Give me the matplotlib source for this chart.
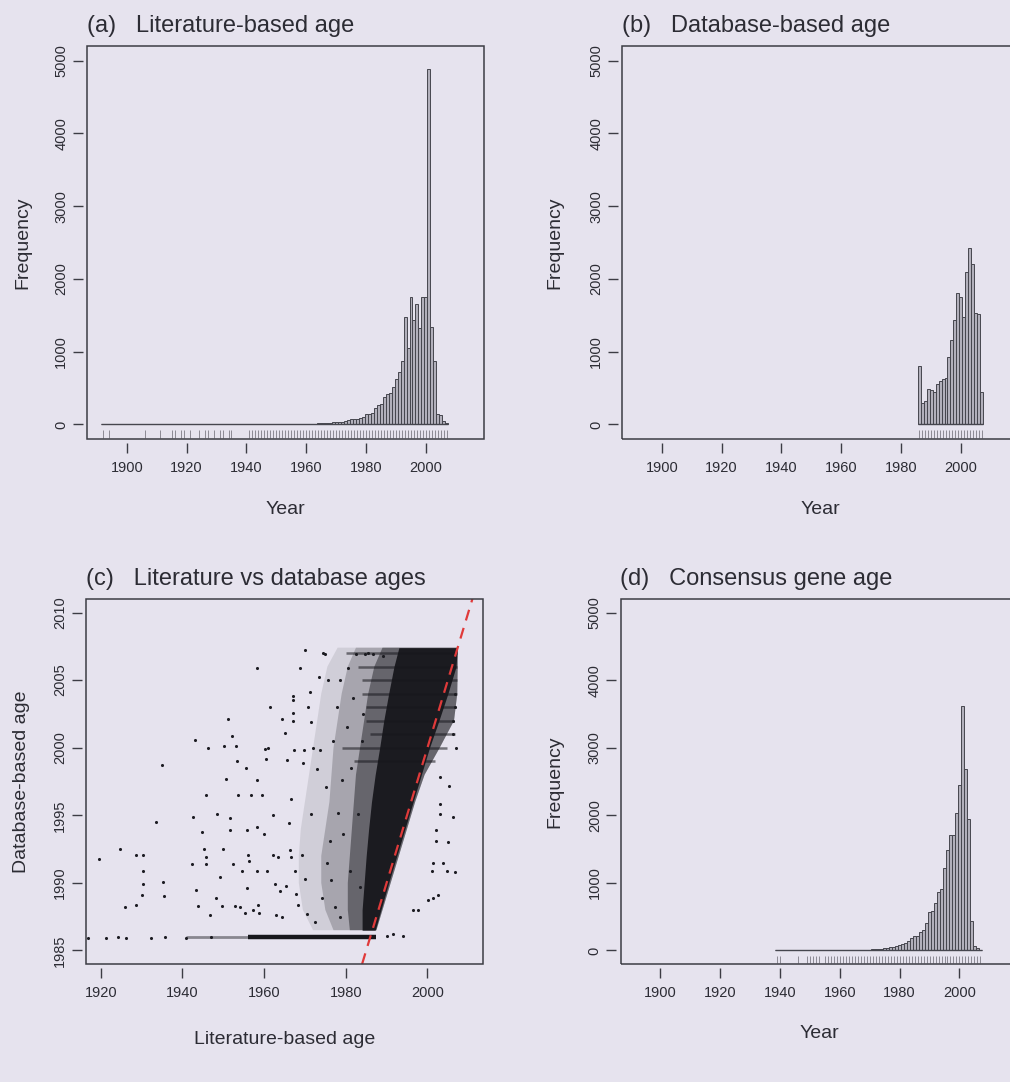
import numpy as np
import matplotlib
matplotlib.use("Agg")
import matplotlib.pyplot as plt
from matplotlib.patches import Rectangle

plt.rcParams['font.family'] = ['Liberation Sans', 'DejaVu Sans']

# ---------------- data ----------------
# (a) literature-based age histogram (counts per year)
lit_early_years = [1892, 1894, 1906, 1911, 1915, 1916, 1918, 1919, 1921, 1924,
                   1926, 1927, 1929, 1931, 1932, 1934, 1935]
lit_years_main = list(range(1941, 2008))
lit_counts_main = [2, 1, 2, 2, 3, 2, 3, 3, 4, 4,
                   4, 5, 5, 5, 6, 6, 7, 7, 8, 9,
                   10, 11, 12, 14, 16, 18, 22, 25, 28, 32,
                   36, 40, 48, 60, 72, 70, 78, 90, 100, 140,
                   150, 160, 220, 265, 280, 380, 420, 430, 520, 620,
                   720, 870, 1480, 1050, 1750, 1440, 1650, 1330, 1750, 1750,
                   4880, 1340, 870, 140, 130, 50, 20]

# (b) database-based age histogram
db_years = list(range(1986, 2008))
db_counts = [800, 300, 320, 490, 480, 440, 560, 600, 630, 640,
             920, 1160, 1440, 1810, 1750, 1470, 2090, 2420, 2200, 1530,
             1520, 450]

# (d) consensus gene age histogram
cons_early_years = [1939, 1940, 1946, 1949, 1950, 1951, 1952, 1953]
cons_early_counts = [2, 2, 1, 1, 1, 1, 1, 1]
cons_years_main = list(range(1955, 2008))
cons_counts_main = [2, 2, 3, 3, 3, 4, 4, 5, 5, 6,
                    6, 7, 8, 9, 10, 12, 15, 18, 22, 26,
                    30, 40, 45, 55, 70, 85, 100, 115, 140, 180,
                    210, 220, 270, 310, 410, 570, 580, 700, 860, 910,
                    1220, 1490, 1710, 1710, 2030, 2450, 3610, 2680, 1940, 430,
                    60, 30, 10]

# (c) literature vs database ages
# sparse individual genes (literature age, database age)
sparse_lit = [1919.7, 1921.3, 1916.8, 1924.3, 1924.7, 1926.2, 1926.0, 1928.6, 1928.6, 1930.4,
              1930.3, 1930.3, 1930.0, 1932.2, 1933.5, 1934.9, 1935.2, 1935.5, 1935.7, 1941.0,
              1942.3, 1942.5, 1943.1, 1943.3, 1943.9, 1944.7, 1945.3, 1945.9, 1945.9, 1946.2,
              1945.8, 1946.8, 1947.0, 1948.2, 1948.5, 1949.2, 1949.6, 1949.9, 1950.2, 1950.7,
              1951.2, 1951.6, 1951.6, 1952.1, 1952.3, 1952.9, 1953.1, 1953.3, 1953.7, 1954.1,
              1954.5, 1955.3, 1955.6, 1955.7, 1956.1, 1955.9, 1956.4, 1956.7, 1957.2, 1958.2,
              1958.3, 1958.2, 1958.3, 1958.6, 1958.8, 1959.4, 1960.2, 1960.5, 1960.0, 1960.6,
              1961.0, 1961.4, 1962.1, 1962.3, 1962.7, 1962.9, 1963.5, 1963.9, 1964.3, 1964.5,
              1965.1, 1965.4, 1965.7, 1966.2, 1966.3, 1966.5, 1966.7, 1967.0, 1967.0, 1967.1,
              1967.1, 1967.3, 1967.6, 1967.8, 1968.4, 1968.8, 1969.2, 1969.6, 1969.8, 1970.0,
              1970.0, 1970.4, 1970.8, 1971.2, 1971.6, 1971.6, 1972.0, 1972.4, 1972.9, 1973.5,
              1973.8, 1974.1, 1974.5, 1974.9, 1975.1, 1975.3, 1975.7, 1976.1, 1976.5, 1976.9,
              1977.3, 1977.8, 1978.2, 1978.6, 1978.6, 1979.0, 1979.4, 1980.2, 1980.6, 1981.0,
              1981.4, 1981.8, 1982.6, 1983.1, 1983.5, 1983.9, 1984.3, 1984.7, 1985.5, 1986.7,
              1989.2, 1990.0, 1991.6, 1994.1, 1996.5, 1997.7, 2000.2, 2001.4, 2002.6, 2001.0,
              2004.7, 2006.7, 2003.9, 2001.4, 2005.1, 2002.2, 2002.2, 2006.2, 2003.0, 2003.0,
              2005.3, 2003.0, 2006.3, 2007.1, 2006.2, 2006.7, 2006.7]
sparse_db = [1991.8, 1985.9, 1985.9, 1986.0, 1992.5, 1985.9, 1988.2, 1988.4, 1992.1, 1992.1,
             1990.9, 1989.9, 1989.1, 1985.9, 1994.5, 1998.7, 1990.1, 1989.0, 1986.0, 1985.9,
             1991.4, 1994.9, 2000.6, 1989.5, 1988.3, 1993.8, 1992.5, 1991.9, 1991.4, 2000.0,
             1996.5, 1987.6, 1986.0, 1988.9, 1995.1, 1990.4, 1988.3, 1992.5, 2000.1, 1997.7,
             2002.1, 1994.8, 1993.9, 2000.9, 1991.4, 1988.3, 2000.1, 1999.0, 1996.5, 1988.2,
             1990.9, 1987.8, 1998.5, 1993.9, 1992.1, 1989.6, 1991.6, 1996.5, 1988.0, 2005.9,
             1997.6, 1994.1, 1990.9, 1988.4, 1987.8, 1996.5, 1999.9, 1999.2, 1993.6, 1990.9,
             2000.0, 2003.0, 1995.0, 1992.1, 1989.9, 1987.6, 1991.9, 1989.4, 2002.1, 1987.5,
             2001.1, 1989.8, 1999.1, 1994.4, 1992.4, 1996.2, 1991.9, 2002.0, 2002.6, 2003.8,
             2003.5, 1999.8, 1990.9, 1989.2, 1988.4, 2005.9, 1992.1, 1998.9, 1999.8, 2007.2,
             1990.3, 1987.7, 2003.0, 2004.1, 1995.1, 2001.9, 2000.0, 1987.1, 1998.4, 2005.2,
             1999.8, 1988.9, 2007.0, 2006.9, 1997.1, 1991.5, 2005.0, 1993.1, 1990.2, 2000.5,
             1988.2, 2003.0, 1995.2, 2005.0, 1987.5, 1997.6, 1993.6, 2001.5, 2005.9, 1990.9,
             1998.5, 2003.7, 2006.9, 1995.1, 1989.7, 2000.5, 2002.5, 2006.9, 2007.0, 2006.9,
             2006.8, 1986.1, 1986.2, 1986.1, 1988.0, 1988.0, 1988.7, 1988.9, 1989.1, 1990.9,
             1990.9, 1990.8, 1991.5, 1991.5, 1993.0, 1993.1, 1993.9, 1994.9, 1995.1, 1995.8,
             1997.2, 1997.8, 2001.0, 2000.0, 2002.0, 2003.0, 2004.0]

# dense point cloud: literature-age bounds at each database-age level,
# from the sparse fringe (level 1) to the solid core (level 4)
band_db = [1986.5, 1988, 1990, 1992, 1994, 1996, 1998, 2000, 2002, 2004, 2006, 2007.4]
fringe_lo = [1972.0, 1969.5, 1968.5, 1968.5, 1969.0, 1970.0, 1971.0, 1972.0, 1973.0, 1974.0, 1975.5, 1978.0]
mid_lo = [1977.0, 1975.0, 1974.0, 1974.0, 1975.0, 1976.0, 1976.5, 1977.0, 1978.0, 1979.0, 1980.5, 1982.5]
dense_lo = [1981.0, 1980.5, 1980.5, 1981.0, 1981.5, 1982.0, 1982.5, 1983.5, 1984.5, 1985.5, 1987.0, 1989.0]
core_lo = [1984.0, 1984.0, 1984.5, 1985.0, 1985.6, 1986.3, 1987.2, 1988.3, 1989.3, 1990.5, 1991.8, 1993.0]
core_hi = [1987.2, 1988.6, 1990.5, 1992.5, 1994.5, 1996.5, 1998.5, 2000.5, 2002.8, 2005.0, 2007.0, 2007.3]
cloud_hi = [1987.5, 1989.0, 1991.0, 1993.0, 1995.0, 1997.0, 1999.3, 2003.0, 2006.5, 2007.3, 2007.4, 2007.4]

# streaks of genes sharing a database year
streak_db = [2007, 2006, 2005, 2004, 2003, 2002, 2001, 2000, 1999]
streak_lo = [1980.0, 1983.0, 1984.0, 1984.0, 1985.0, 1985.0, 1986.0, 1979.0, 1982.0]
streak_hi = [2007.2, 2007.2, 2007.3, 2007.3, 2007.0, 2006.5, 2006.8, 2004.7, 2001.8]

# 1986 floor row
row1986_dense = (1956.0, 1987.5)
row1986_light = (1941.0, 1956.0)

# ---------------- style ----------------
BG = '#e6e3ee'
TXT = '#2c2c34'
AX = '#3c3c44'
BAR_FACE = '#b2b0bb'
BAR_EDGE = '#46464e'
RUG = '#8c8a94'
INK = '#17171c'

W, H = 1010, 1082
fig = plt.figure(figsize=(W / 100, H / 100), dpi=100, facecolor=BG)


def make_ax(left, top, width, height):
    return fig.add_axes([left / W, 1 - (top + height) / H, width / W, height / H])


def style(ax, xticks, yticks, xlim, ylim, title, xlabel, ylabel, xlab_off, ylab_off):
    ax.set_xlim(*xlim)
    ax.set_ylim(*ylim)
    ax.set_facecolor('none')
    for s in ax.spines.values():
        s.set_visible(False)
    ax.spines['left'].set_position(('outward', 3))
    ax.spines['bottom'].set_position(('outward', 3))
    ax.add_patch(Rectangle((0, 0), 1, 1, transform=ax.transAxes, fill=False,
                           lw=1.1, ec=AX, clip_on=False, zorder=6))
    ax.set_xticks(xticks)
    ax.set_yticks(yticks)
    ax.tick_params(direction='out', length=7.5, width=1.0, color=AX,
                   labelsize=10.5, labelcolor=TXT)
    ax.tick_params(axis='x', pad=5)
    ax.tick_params(axis='y', pad=3, labelrotation=90)
    for lab in ax.get_yticklabels():
        lab.set_verticalalignment('center')
    ax.annotate(title, xy=(0, 1), xycoords='axes fraction', xytext=(0, 14),
                textcoords='offset pixels', ha='left', va='baseline',
                fontsize=17, color=TXT)
    ax.annotate(xlabel, xy=(0.5, 0), xycoords='axes fraction', xytext=(0, -xlab_off),
                textcoords='offset pixels', ha='center', va='center',
                fontsize=14, color=TXT)
    ax.annotate(ylabel, xy=(0, 0.5), xycoords='axes fraction', xytext=(-ylab_off, 0),
                textcoords='offset pixels', ha='center', va='center', rotation=90,
                fontsize=14, color=TXT)


def hist(ax, years, counts, rug):
    ax.bar(years, counts, width=1.0, align='center', facecolor=BAR_FACE,
           edgecolor=BAR_EDGE, linewidth=0.7, zorder=2)
    ax.hlines(0, min(years) - 0.5, max(years) + 0.5, color=BAR_EDGE, lw=1.0, zorder=3)
    ax.vlines(rug, -190, -75, color=RUG, lw=0.7, zorder=2)


hist_xlim = (1886.7, 2019.4)
hist_ylim = (-200, 5200)
hist_xt = [1900, 1920, 1940, 1960, 1980, 2000]
hist_yt = [0, 1000, 2000, 3000, 4000, 5000]

# (a)
ax_a = make_ax(87, 46, 397, 393)
ya = lit_early_years + lit_years_main
ca = [1] * len(lit_early_years) + lit_counts_main
hist(ax_a, ya, ca, ya)
style(ax_a, hist_xt, hist_yt, hist_xlim, hist_ylim, '(a)   Literature-based age',
      'Year', 'Frequency', 71, 64)

# (b)
ax_b = make_ax(622, 46, 397, 393)
hist(ax_b, db_years, db_counts, db_years)
style(ax_b, hist_xt, hist_yt, hist_xlim, hist_ylim, '(b)   Database-based age',
      'Year', 'Frequency', 71, 67)

# (d)
ax_d = make_ax(620.5, 599, 397, 365)
yd = cons_early_years + cons_years_main
cd = cons_early_counts + cons_counts_main
hist(ax_d, yd, cd, yd)
style(ax_d, hist_xt, hist_yt, hist_xlim, hist_ylim, '(d)   Consensus gene age',
      'Year', 'Frequency', 69, 66)

# (c)
ax_c = make_ax(86, 599, 397, 365)
for lo, hi, a in [(fringe_lo, cloud_hi, 0.10), (mid_lo, cloud_hi, 0.22),
                  (dense_lo, cloud_hi, 0.45)]:
    ax_c.fill_betweenx(band_db, lo, hi, facecolor=INK, alpha=a, lw=0, zorder=2)
ax_c.hlines(streak_db, streak_lo, streak_hi, color=INK, lw=1.8, alpha=0.55, zorder=3)
ax_c.fill_betweenx(band_db, core_lo, core_hi, color=INK, alpha=0.95, lw=0, zorder=3)
ax_c.hlines(1986, *row1986_dense, color=INK, lw=3.2, zorder=3)
ax_c.hlines(1986, *row1986_light, color=INK, lw=2.0, alpha=0.45, zorder=3)
ax_c.scatter(sparse_lit, sparse_db, s=5, color='#1c1c22', lw=0, zorder=4)
ax_c.axline((1990, 1990), (2000, 2000), color='#e03a3a', lw=1.6,
            dashes=(5, 3.5), zorder=5)
style(ax_c, [1920, 1940, 1960, 1980, 2000], [1985, 1990, 1995, 2000, 2005, 2010],
      (1916.4, 2013.6), (1984, 2011), '(c)   Literature vs database ages',
      'Literature-based age', 'Database-based age', 76, 64)

fig.savefig('out.png', dpi=100, facecolor=BG)
